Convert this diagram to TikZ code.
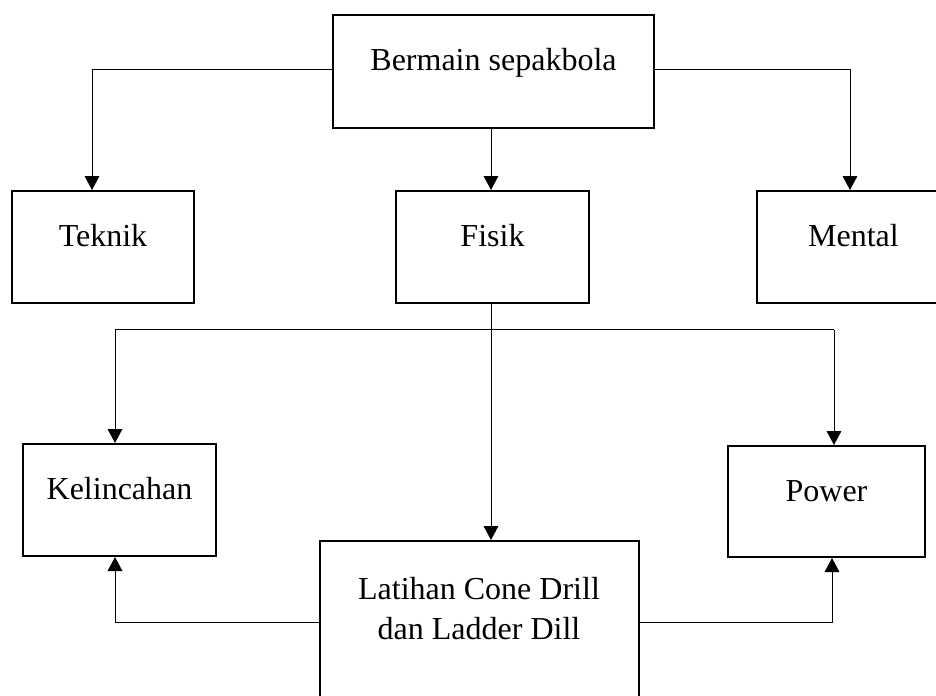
\documentclass[tikz,border=0pt]{standalone}
\usepackage{fontspec}
\setmainfont{Liberation Serif}
\usetikzlibrary{fit,arrows.meta}
\begin{document}
\begin{tikzpicture}[x=0.75pt,y=-0.75pt,
  boxnode/.style={draw,line width=1.5pt,inner sep=0pt,rectangle},
  lbl/.style={anchor=base,inner sep=0pt,font=\fontsize{24}{30}\selectfont},
  conn/.style={line width=0.75pt},
  arr/.style={conn,-{Triangle[width=11pt,length=10.5pt]}}]
\useasboundingbox (0,0) rectangle (936,696);
\clip (0,0) rectangle (936,696);
% boxes
\node[boxnode,fit={(333,15) (654,128)}] (top) {};
\node[boxnode,fit={(12,191) (194,303)}] (tek) {};
\node[boxnode,fit={(396,191) (589,303)}] (fis) {};
\node[boxnode,fit={(757,191) (950,303)}] (men) {};
\node[boxnode,fit={(23,444) (216,556)}] (kel) {};
\node[boxnode,fit={(728,446) (925,557)}] (pow) {};
\node[boxnode,fit={(320,541) (639,760)}] (lat) {};
% labels
\node[lbl] (ttop) at (493.5,70.5) {Bermain sepakbola};
\node[lbl] (ttek) at (103,246.5) {Teknik};
\node[lbl] (tfis) at (492.5,246.5) {Fisik};
\node[lbl] (tmen) at (853.5,246.5) {Mental};
\node[lbl] (tkel) at (119.5,499.5) {Kelincahan};
\node[lbl] (tpow) at (826.5,501.5) {Power};
\node[lbl] (tlat1) at (479,599.3) {Latihan Cone Drill};
\node[lbl] (tlat2) at (479,639.3) {dan Ladder Dill};
% helper coordinates
\coordinate (hl) at (92,69.5);
\coordinate (hr) at (850,69.5);
\coordinate (j) at (491,329.5);
\coordinate (jl) at (115,329.5);
\coordinate (jr) at (834,329.5);
\coordinate (ml) at (115,622);
\coordinate (mr) at (832,622);
% connectors
\draw[arr] (top.west |- hl) -- (hl) -- (tek.north -| hl);
\draw[arr] (top.east |- hr) -- (hr) -- (men.north -| hr);
\draw[arr] (top.south -| j) -- (fis.north -| j);
\draw[conn] (fis.south -| j) -- (j);
\draw[conn] (jl) -- (jr);
\draw[arr] (jl) -- (kel.north -| jl);
\draw[arr] (jr) -- (pow.north -| jr);
\draw[arr] (j) -- (lat.north -| j);
\draw[arr] (lat.west |- ml) -- (ml) -- (kel.south -| ml);
\draw[arr] (lat.east |- mr) -- (mr) -- (pow.south -| mr);
\end{tikzpicture}
\end{document}
